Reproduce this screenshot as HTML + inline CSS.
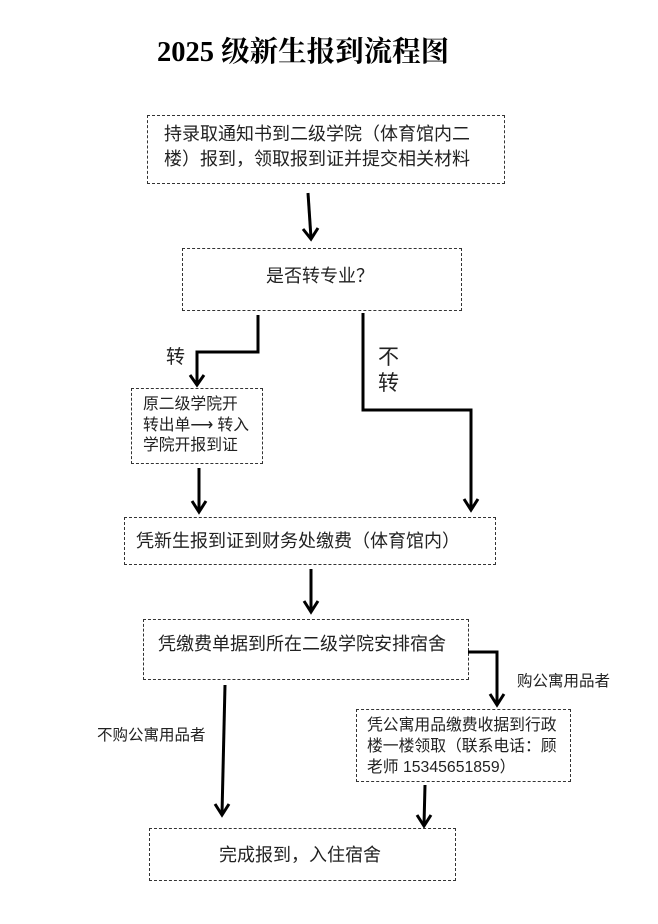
<!DOCTYPE html>
<html><head><meta charset="utf-8"><style>
body{margin:0;background:#fff;}
#c{position:relative;width:658px;height:924px;overflow:hidden;font-family:"Liberation Sans","Noto Sans CJK SC",sans-serif;color:#222;}
.b{position:absolute;border:1.5px dashed #333;box-sizing:border-box;}
.t{position:absolute;white-space:nowrap;}
</style></head><body><div id="c">
<div class="t" style="left:157px;top:36px;font-family:'Liberation Serif','Noto Serif CJK SC',serif;font-weight:bold;font-size:28.5px;line-height:34px;color:#000;">2025 级新生报到流程图</div>

<div class="b" style="left:147px;top:115px;width:358px;height:69px;"></div>
<div class="t" style="left:164px;top:122px;font-size:18px;line-height:25px;">持录取通知书到二级学院（体育馆内二<br>楼）报到，领取报到证并提交相关材料</div>

<div class="b" style="left:182px;top:248px;width:280px;height:63px;"></div>
<div class="t" style="left:266px;top:265px;font-size:18px;line-height:22px;">是否转专业？</div>

<div class="b" style="left:131px;top:388px;width:132px;height:76px;"></div>
<div class="t" style="left:143px;top:395px;font-size:15.8px;line-height:20.5px;">原二级学院开<br>转出单⟶ 转入<br>学院开报到证</div>

<div class="b" style="left:124px;top:517px;width:372px;height:48px;"></div>
<div class="t" style="left:136px;top:530px;font-size:18px;line-height:22px;">凭新生报到证到财务处缴费（体育馆内）</div>

<div class="b" style="left:143px;top:619px;width:326px;height:61px;"></div>
<div class="t" style="left:158px;top:633px;font-size:18px;line-height:22px;">凭缴费单据到所在二级学院安排宿舍</div>

<div class="b" style="left:356px;top:709px;width:215px;height:73px;"></div>
<div class="t" style="left:367px;top:715px;font-size:15.8px;line-height:21px;">凭公寓用品缴费收据到行政<br>楼一楼领取（联系电话：顾<br>老师 15345651859）</div>

<div class="b" style="left:149px;top:828px;width:307px;height:53px;"></div>
<div class="t" style="left:219px;top:844px;font-size:18px;line-height:22px;">完成报到，入住宿舍</div>

<div class="t" style="left:166px;top:347px;font-size:19px;line-height:22px;">转</div>
<div class="t" style="left:378px;top:345px;font-size:21px;line-height:26px;">不<br>转</div>
<div class="t" style="left:517px;top:672px;font-size:15.5px;line-height:20px;">购公寓用品者</div>
<div class="t" style="left:97px;top:726px;font-size:15.5px;line-height:20px;">不购公寓用品者</div>

<svg width="658" height="924" style="position:absolute;left:0;top:0" fill="none" stroke="#000" stroke-width="3">
<path d="M308 193 L311 238"/><path d="M303 229 L311 239 L318 228"/>
<path d="M258 315 V352 H197 V384"/><path d="M190 375 L197 385 L204 375"/>
<path d="M363 313 V410 H471 V509"/><path d="M464 499 L471 510 L478 499"/>
<path d="M199 468 V511"/><path d="M192 501 L199 512 L206 501"/>
<path d="M311 569 V611"/><path d="M304 601 L311 612 L318 601"/>
<path d="M468 652 H497 V704"/><path d="M490 694 L497 705 L504 694"/>
<path d="M225 685 L222 814"/><path d="M215 804 L222 815 L229 804"/>
<path d="M425 785 L424 825"/><path d="M417 815 L424 826 L431 815"/>
</svg>
</div></body></html>
